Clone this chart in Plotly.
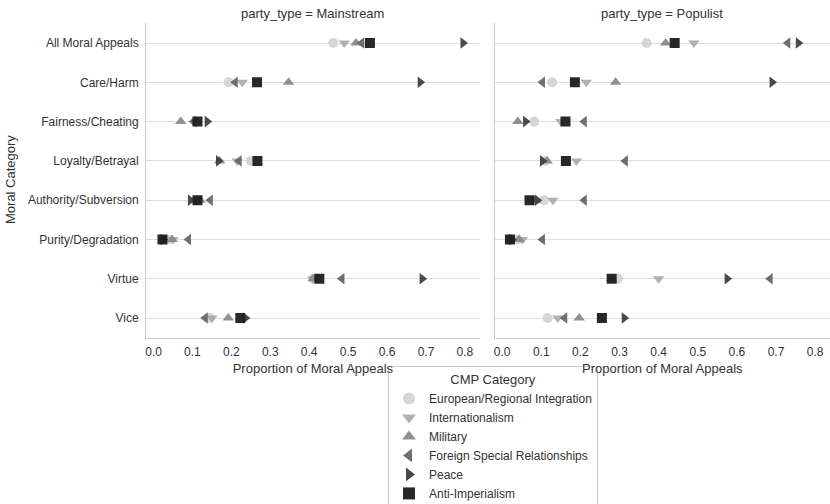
import plotly.graph_objects as go

categories = ["All Moral Appeals", "Care/Harm", "Fairness/Cheating", "Loyalty/Betrayal",
              "Authority/Subversion", "Purity/Degradation", "Virtue", "Vice"]
series_names = ["European/Regional Integration", "Internationalism", "Military",
                "Foreign Special Relationships", "Peace", "Anti-Imperialism"]

mainstream = {
    "European/Regional Integration": [0.462, 0.193, 0.11, 0.25, 0.11, 0.04, 0.41, 0.145],
    "Internationalism": [0.49, 0.228, 0.11, 0.215, 0.11, 0.05, 0.41, 0.15],
    "Military": [0.52, 0.347, 0.07, 0.17, 0.12, 0.048, 0.41, 0.192],
    "Foreign Special Relationships": [0.535, 0.21, 0.103, 0.22, 0.146, 0.09, 0.484, 0.133],
    "Peace": [0.795, 0.685, 0.138, 0.167, 0.095, 0.025, 0.69, 0.236],
    "Anti-Imperialism": [0.556, 0.266, 0.113, 0.267, 0.113, 0.023, 0.426, 0.223],
}
populist = {
    "European/Regional Integration": [0.369, 0.128, 0.082, 0.11, 0.107, 0.04, 0.296, 0.116],
    "Internationalism": [0.49, 0.215, 0.15, 0.19, 0.13, 0.052, 0.40, 0.142],
    "Military": [0.418, 0.29, 0.04, 0.115, 0.085, 0.043, 0.28, 0.197],
    "Foreign Special Relationships": [0.73, 0.103, 0.21, 0.315, 0.21, 0.103, 0.685, 0.16],
    "Peace": [0.757, 0.69, 0.06, 0.103, 0.09, 0.025, 0.575, 0.312],
    "Anti-Imperialism": [0.441, 0.186, 0.162, 0.163, 0.07, 0.02, 0.28, 0.255],
}

symbols = ["circle", "triangle-down", "triangle-up", "triangle-left", "triangle-right", "square"]
colors = ["#d4d4d4", "#adadad", "#8a8a8a", "#676767", "#404040", "#1c1c1c"]

font_family = "Liberation Sans, Arial, sans-serif"
txt = "#333333"
fig = go.Figure()

for i, name in enumerate(series_names):
    fig.add_trace(go.Scatter(
        x=mainstream[name], y=categories, mode="markers", name=name,
        legendgroup=name, showlegend=True,
        marker=dict(symbol=symbols[i], color=colors[i], size=10, opacity=0.95, line=dict(width=0)),
        xaxis="x", yaxis="y"))
    fig.add_trace(go.Scatter(
        x=populist[name], y=categories, mode="markers", name=name,
        legendgroup=name, showlegend=False,
        marker=dict(symbol=symbols[i], color=colors[i], size=10, opacity=0.95, line=dict(width=0)),
        xaxis="x2", yaxis="y2"))

xcommon = dict(range=[-0.019, 0.838], dtick=0.1, tick0=0, tickformat=".1f",
               showgrid=False, zeroline=False, showline=True, linecolor="#cccccc", linewidth=1,
               ticks="", tickfont=dict(size=12, color=txt), automargin=False, ticklabelstandoff=3,
               title=dict(text="Proportion of Moral Appeals", font=dict(size=13, color=txt), standoff=5))
ycommon = dict(type="category", categoryorder="array", categoryarray=categories,
               range=[7.5, -0.5], showgrid=True, gridcolor="#dddddd", gridwidth=1,
               zeroline=False, showline=True, linecolor="#cccccc", linewidth=1, ticks="",
               automargin=False, domain=[0.330, 0.9536])

fig.update_layout(
    width=830, height=504,
    margin=dict(l=0, r=0, t=0, b=0, autoexpand=False),
    paper_bgcolor="white", plot_bgcolor="white",
    font=dict(family=font_family, color=txt),
    xaxis=dict(domain=[0.176, 0.578], anchor="y", **xcommon),
    xaxis2=dict(domain=[0.596, 1.0], anchor="y2", **xcommon),
    yaxis=dict(anchor="x", tickfont=dict(size=12, color=txt), ticklabelstandoff=4, **ycommon),
    yaxis2=dict(anchor="x2", showticklabels=False, **ycommon),
    legend=dict(
        x=0.594, xanchor="center", y=1 - 366 / 504, yanchor="top",
        title=dict(text="CMP Category", side="top center", font=dict(size=13, color=txt)),
        font=dict(size=12, color=txt),
        bordercolor="#cccccc", borderwidth=1, bgcolor="rgba(255,255,255,0)",
        tracegroupgap=0, itemsizing="constant",
    ),
    annotations=[
        dict(text="party_type = Mainstream", x=0.377, y=1 - 13 / 504, xref="paper", yref="paper",
             showarrow=False, font=dict(size=13, color=txt), xanchor="center", yanchor="middle"),
        dict(text="party_type = Populist", x=0.798, y=1 - 13 / 504, xref="paper", yref="paper",
             showarrow=False, font=dict(size=13, color=txt), xanchor="center", yanchor="middle"),
        dict(text="Moral Category", x=10 / 830, y=1 - 180 / 504, xref="paper", yref="paper",
             showarrow=False, textangle=-90, font=dict(size=13, color=txt),
             xanchor="center", yanchor="middle"),
    ],
)

fig.write_html("out.html")
